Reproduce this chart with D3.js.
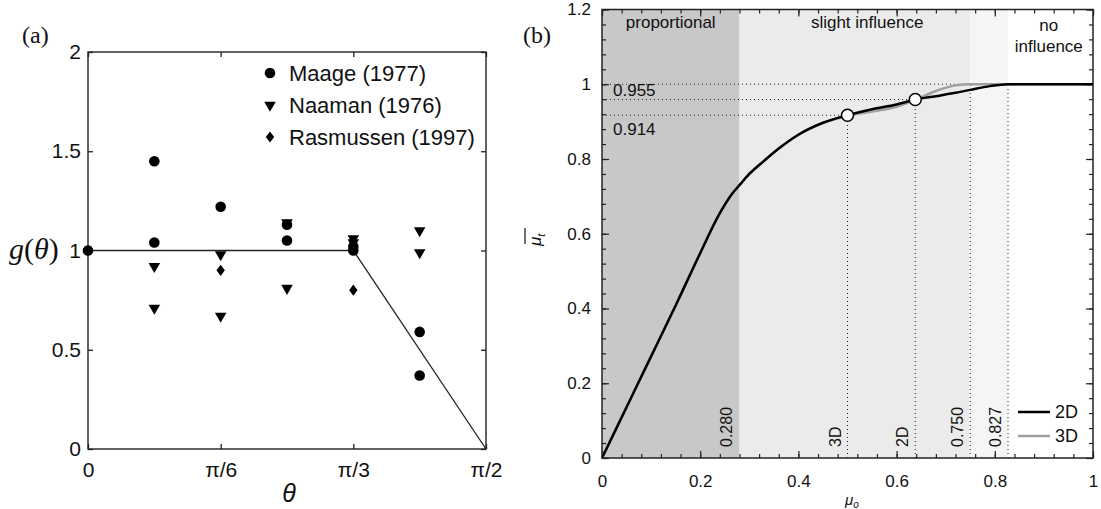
<!DOCTYPE html>
<html>
<head>
<meta charset="utf-8">
<script src="https://cdn.jsdelivr.net/npm/d3@7"></script>
<style>
body { margin: 0; background: #fff; }
text { font-family: "Liberation Sans", Arial, sans-serif; fill: #111; }
</style>
</head>
<body>
<div id="container"></div>
<script>
/* CONSTANTS AND GLOBALS */
const width = 1101;
const height = 509;

/* DATA - panel (a), theta in degrees */
const maageTheta = [0, 15, 15, 30, 45, 45, 60, 60, 75, 75];
const maageG = [1.0, 1.45, 1.04, 1.22, 1.13, 1.05, 1.02, 1.0, 0.59, 0.37];
const naamanTheta = [15, 15, 30, 30, 45, 45, 60, 60, 75, 75];
const naamanG = [0.92, 0.71, 0.98, 0.67, 1.14, 0.81, 1.06, 1.04, 1.10, 0.99];
const rasmussenTheta = [30, 60];
const rasmussenG = [0.90, 0.80];
const modelTheta = [0, 60, 90];
const modelG = [1, 1, 0];
const legendNames = ["Maage (1977)", "Naaman (1976)", "Rasmussen (1997)"];
const xTicksA = [0, 30, 60, 90];
const xTickLabelsA = ["0", "π/6", "π/3", "π/2"];
const yTicksA = [0, 0.5, 1, 1.5, 2];

/* DATA - panel (b) */
const mu0 = [0, 0.05, 0.10, 0.15, 0.20, 0.24, 0.265, 0.28, 0.30, 0.33, 0.36, 0.40, 0.45, 0.50, 0.55, 0.60, 0.638, 0.68, 0.72, 0.75, 0.79, 0.827, 0.9, 1.0];
const mu2D = [0, 0.136, 0.272, 0.408, 0.548, 0.655, 0.707, 0.73, 0.76, 0.795, 0.828, 0.865, 0.897, 0.917, 0.933, 0.946, 0.959, 0.968, 0.977, 0.985, 0.995, 1.0, 1.0, 1.0];
const mu3D = [0, 0.136, 0.272, 0.408, 0.548, 0.655, 0.707, 0.73, 0.76, 0.795, 0.828, 0.865, 0.896, 0.915, 0.927, 0.940, 0.958, 0.982, 0.997, 1.0, 1.0, 1.0, 1.0, 1.0];
const regionBreaks = [0, 0.28, 0.75, 0.827, 1];
const pointMu0 = [0.5, 0.638];
const pointMu = [0.917, 0.959];
const pointLabels = ["0.914", "0.955"];
const vLineX = [0.28, 0.5, 0.638, 0.75, 0.827];
const vLineTop = [null, 0.917, 0.959, 1.0, 1.0];
const vLineLabels = ["0.280", "3D", "2D", "0.750", "0.827"];
const xTicksB = [0, 0.2, 0.4, 0.6, 0.8, 1];
const yTicksB = [0, 0.2, 0.4, 0.6, 0.8, 1, 1.2];

/* HTML ELEMENTS */
const svg = d3.select("#container")
  .append("svg")
  .attr("width", width)
  .attr("height", height);

/* ================= PANEL (a) ================= */
const xA = d3.scaleLinear().domain([0, 90]).range([88, 486]);
const yA = d3.scaleLinear().domain([0, 2]).range([449, 52]);

const gA = svg.append("g");

gA.append("g")
  .attr("transform", "translate(0,449)")
  .call(d3.axisBottom(xA).tickValues(xTicksA).tickFormat((d, i) => xTickLabelsA[i]).tickSizeInner(-5).tickSizeOuter(0).tickPadding(13))
  .call(g => g.select(".domain").remove())
  .call(g => g.selectAll("text").attr("font-size", 21).attr("fill", "#222"));

gA.append("g")
  .attr("transform", "translate(0,52)")
  .call(d3.axisTop(xA).tickValues(xTicksA).tickFormat("").tickSizeInner(-5).tickSizeOuter(0))
  .call(g => g.select(".domain").remove());

gA.append("g")
  .attr("transform", "translate(88,0)")
  .call(d3.axisLeft(yA).tickValues(yTicksA).tickFormat(d3.format("")).tickSizeInner(-5).tickSizeOuter(0).tickPadding(7))
  .call(g => g.select(".domain").remove())
  .call(g => g.selectAll("text").attr("font-size", 21).attr("fill", "#222"));

gA.append("g")
  .attr("transform", "translate(486,0)")
  .call(d3.axisRight(yA).tickValues(yTicksA).tickFormat("").tickSizeInner(-5).tickSizeOuter(0))
  .call(g => g.select(".domain").remove());

gA.selectAll(".tick line").attr("stroke", "#222").attr("stroke-width", 1.3);

gA.append("rect")
  .attr("x", xA(0)).attr("y", yA(2))
  .attr("width", xA(90) - xA(0)).attr("height", yA(0) - yA(2))
  .attr("fill", "none").attr("stroke", "#222").attr("stroke-width", 1.4);

// model line
gA.append("path")
  .datum(d3.zip(modelTheta, modelG))
  .attr("d", d3.line().x(d => xA(d[0])).y(d => yA(d[1])))
  .attr("fill", "none").attr("stroke", "#222").attr("stroke-width", 1.3);

const circleSym = d3.symbol().type(d3.symbolCircle).size(88);
const triSym = d3.symbol().type(d3.symbolTriangle).size(58);
const diaSym = d3.symbol().type(d3.symbolDiamond).size(36);

gA.selectAll(".maage")
  .data(d3.zip(maageTheta, maageG))
  .join("path")
  .attr("transform", d => `translate(${xA(d[0])},${yA(d[1])})`)
  .attr("d", circleSym).attr("fill", "#000");

gA.selectAll(".naaman")
  .data(d3.zip(naamanTheta, naamanG))
  .join("path")
  .attr("transform", d => `translate(${xA(d[0])},${yA(d[1])}) rotate(180)`)
  .attr("d", triSym).attr("fill", "#000");

gA.selectAll(".rasm")
  .data(d3.zip(rasmussenTheta, rasmussenG))
  .join("path")
  .attr("transform", d => `translate(${xA(d[0])},${yA(d[1])}) scale(1.3,1)`)
  .attr("d", diaSym).attr("fill", "#000");

// legend
const legSyms = [circleSym, triSym, diaSym];
const legTf = [null, "rotate(180)", "scale(1.3,1)"];
const legend = gA.selectAll(".leg")
  .data(legendNames)
  .join("g")
  .attr("transform", (d, i) => `translate(270,${73 + i * 32})`);
legend.append("path")
  .attr("d", (d, i) => legSyms[i]())
  .attr("transform", (d, i) => legTf[i])
  .attr("fill", "#000");
legend.append("text")
  .attr("x", 19).attr("dy", "0.35em")
  .attr("font-size", 22)
  .text(d => d);

// labels
svg.append("text")
  .attr("x", 22).attr("y", 43)
  .style("font-family", "'Liberation Serif', serif")
  .attr("font-size", 24)
  .text("(a)");

const gLab = svg.append("text")
  .attr("x", 9).attr("y", 259)
  .style("font-family", "'Liberation Serif', serif")
  .attr("font-size", 30);
gLab.append("tspan").attr("font-style", "italic").text("g");
gLab.append("tspan").text("(");
gLab.append("tspan").attr("font-style", "italic").text("θ");
gLab.append("tspan").text(")");

svg.append("text")
  .attr("x", 289).attr("y", 502)
  .attr("text-anchor", "middle")
  .attr("font-style", "italic")
  .attr("font-size", 25)
  .text("θ");

/* ================= PANEL (b) ================= */
const xB = d3.scaleLinear().domain([0, 1]).range([602, 1093]);
const yB = d3.scaleLinear().domain([0, 1.2]).range([458, 9.5]);
const regionFill = ["#c8c8c8", "#ebebeb", "#f5f5f5", "#ffffff"];

const gB = svg.append("g");

gB.selectAll(".region")
  .data(d3.pairs(regionBreaks))
  .join("rect")
  .attr("x", d => xB(d[0]))
  .attr("width", d => xB(d[1]) - xB(d[0]))
  .attr("y", yB(1.2))
  .attr("height", yB(0) - yB(1.2))
  .attr("fill", (d, i) => regionFill[i]);

// dotted guides
const dotted = gB.append("g")
  .attr("stroke", "#222").attr("stroke-width", 1).attr("stroke-dasharray", "1,3");
dotted.append("line")
  .attr("x1", xB(0)).attr("x2", xB(0.827))
  .attr("y1", yB(1)).attr("y2", yB(1));
dotted.selectAll(".hl")
  .data(d3.zip(pointMu0, pointMu))
  .join("line")
  .attr("x1", xB(0)).attr("x2", d => xB(d[0]))
  .attr("y1", d => yB(d[1])).attr("y2", d => yB(d[1]));
dotted.selectAll(".vl")
  .data(d3.zip(vLineX, vLineTop).filter(d => d[1] !== null))
  .join("line")
  .attr("x1", d => xB(d[0])).attr("x2", d => xB(d[0]))
  .attr("y1", yB(0)).attr("y2", d => yB(d[1]));

// axes with minor ticks
const minorX = d3.range(0, 1.0001, 0.04);
const minorY = d3.range(0, 1.2001, 0.04);
const fmtB = d => (d === 0 || d === 1) ? String(d) : d.toFixed(1);

gB.append("g").attr("transform", `translate(0,${yB(0)})`)
  .call(d3.axisBottom(xB).tickValues(minorX).tickFormat("").tickSizeInner(-4).tickSizeOuter(0));
gB.append("g").attr("transform", `translate(0,${yB(0)})`)
  .call(d3.axisBottom(xB).tickValues(xTicksB).tickFormat(fmtB).tickSizeInner(-7).tickSizeOuter(0).tickPadding(17))
  .call(g => g.selectAll("text").attr("font-size", 17));
gB.append("g").attr("transform", `translate(0,${yB(1.2)})`)
  .call(d3.axisTop(xB).tickValues(minorX).tickFormat("").tickSizeInner(-4).tickSizeOuter(0));
gB.append("g").attr("transform", `translate(0,${yB(1.2)})`)
  .call(d3.axisTop(xB).tickValues(xTicksB).tickFormat("").tickSizeInner(-7).tickSizeOuter(0));
gB.append("g").attr("transform", `translate(${xB(0)},0)`)
  .call(d3.axisLeft(yB).tickValues(minorY).tickFormat("").tickSizeInner(-4).tickSizeOuter(0));
gB.append("g").attr("transform", `translate(${xB(0)},0)`)
  .call(d3.axisLeft(yB).tickValues(yTicksB).tickFormat(fmtB).tickSizeInner(-7).tickSizeOuter(0).tickPadding(11))
  .call(g => g.selectAll("text").attr("font-size", 17));
gB.append("g").attr("transform", `translate(${xB(1)},0)`)
  .call(d3.axisRight(yB).tickValues(minorY).tickFormat("").tickSizeInner(-4).tickSizeOuter(0));
gB.append("g").attr("transform", `translate(${xB(1)},0)`)
  .call(d3.axisRight(yB).tickValues(yTicksB).tickFormat("").tickSizeInner(-7).tickSizeOuter(0));

gB.selectAll(".domain").remove();
gB.selectAll(".tick line").attr("stroke", "#222").attr("stroke-width", 1.2);

gB.append("rect")
  .attr("x", xB(0)).attr("y", yB(1.2))
  .attr("width", xB(1) - xB(0)).attr("height", yB(0) - yB(1.2))
  .attr("fill", "none").attr("stroke", "#222").attr("stroke-width", 1.5);

// curves
const curveLine = d3.line().x(d => xB(d[0])).y(d => yB(d[1])).curve(d3.curveMonotoneX);
gB.append("path")
  .datum(d3.zip(mu0, mu3D))
  .attr("d", curveLine)
  .attr("fill", "none").attr("stroke", "#a0a0a0").attr("stroke-width", 2.5);
gB.append("path")
  .datum(d3.zip(mu0, mu2D))
  .attr("d", curveLine)
  .attr("fill", "none").attr("stroke", "#000").attr("stroke-width", 2.5);

gB.selectAll(".pt")
  .data(d3.zip(pointMu0, pointMu))
  .join("circle")
  .attr("cx", d => xB(d[0])).attr("cy", d => yB(d[1]))
  .attr("r", 6).attr("fill", "#fff").attr("stroke", "#000").attr("stroke-width", 1.5);

// value labels
gB.selectAll(".plab")
  .data(pointLabels)
  .join("text")
  .attr("x", xB(0) + 11)
  .attr("y", (d, i) => i === 1 ? yB(1) + 12 : yB(pointMu[0]) + 20)
  .attr("font-size", 17)
  .text(d => d);

gB.selectAll(".vlab")
  .data(d3.zip(vLineX, vLineLabels))
  .join("text")
  .attr("transform", d => `translate(${xB(d[0]) - 7},${yB(0) - 11}) rotate(-90)`)
  .attr("font-size", 16)
  .text(d => d[1]);

// region titles
gB.append("text").attr("x", xB(0.14)).attr("y", 28).attr("text-anchor", "middle").attr("font-size", 17).text("proportional");
gB.append("text").attr("x", xB(0.54)).attr("y", 28).attr("text-anchor", "middle").attr("font-size", 17).text("slight influence");
gB.append("text").attr("x", xB(0.91)).attr("y", 31).attr("text-anchor", "middle").attr("font-size", 17).text("no");
gB.append("text").attr("x", xB(0.91)).attr("y", 52).attr("text-anchor", "middle").attr("font-size", 17).text("influence");

// legend
const legB = gB.selectAll(".legB")
  .data([["2D", "#000"], ["3D", "#a0a0a0"]])
  .join("g")
  .attr("transform", (d, i) => `translate(1018,${412 + i * 24})`);
legB.append("line").attr("x1", 0).attr("x2", 32)
  .attr("stroke", d => d[1]).attr("stroke-width", 2.5);
legB.append("text").attr("x", 37).attr("dy", "0.35em").attr("font-size", 18).text(d => d[0]);

// axis labels
svg.append("text")
  .attr("x", 523).attr("y", 43)
  .style("font-family", "'Liberation Serif', serif")
  .attr("font-size", 24)
  .text("(b)");

const muX = svg.append("text")
  .attr("x", 845).attr("y", 505)
  .attr("font-style", "italic").attr("font-size", 15);
muX.append("tspan").text("μ");
muX.append("tspan").attr("font-size", 10).attr("dy", 3).text("o");

const muY = svg.append("text")
  .attr("transform", "translate(541,246) rotate(-90)")
  .attr("font-style", "italic").attr("font-size", 17);
muY.append("tspan").text("μ");
muY.append("tspan").attr("font-size", 11).attr("dy", 4).text("t");
svg.append("line")
  .attr("x1", 525).attr("x2", 525).attr("y1", 228).attr("y2", 244)
  .attr("stroke", "#222").attr("stroke-width", 1.3);
</script>
</body>
</html>
